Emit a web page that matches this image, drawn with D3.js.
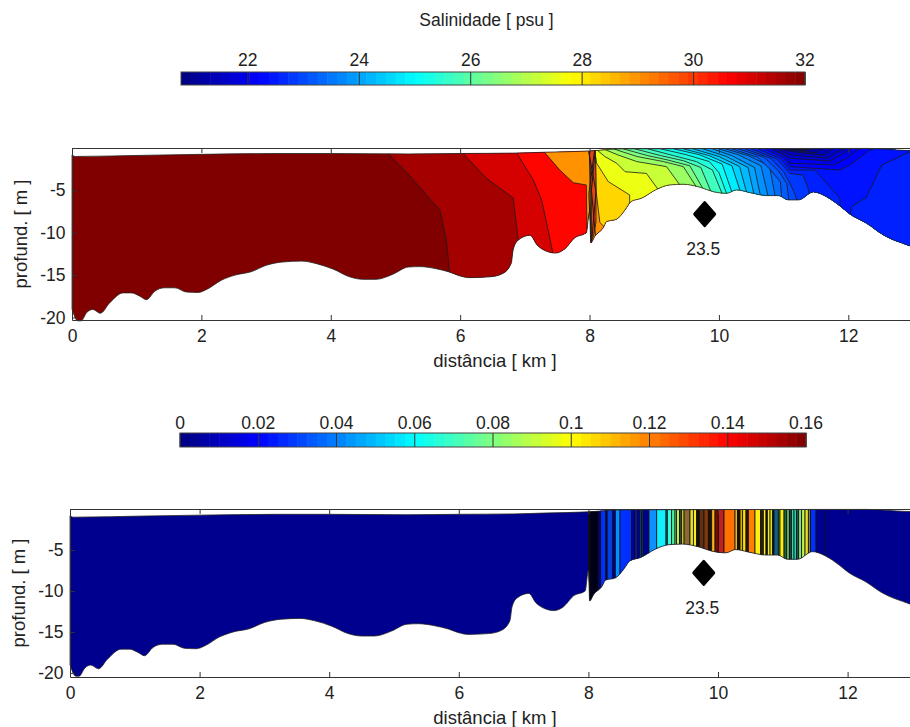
<!DOCTYPE html>
<html>
<head>
<meta charset="utf-8">
<script src="https://cdn.jsdelivr.net/npm/d3@7"></script>
<style>
  body { margin: 0; background: #fff; }
  text { font-family: "Liberation Sans", Arial, sans-serif; fill: #222; }
  .axis path, .axis line { stroke: #333; }
</style>
</head>
<body>
<div id="chart"></div>
<script>
// all depths are metres below surface, drawn as negative tick labels
const xTicks = [0, 2, 4, 6, 8, 10, 12];
const depthTicks = [5, 10, 15, 20];
const salinityTicks = [22, 24, 26, 28, 30, 32];
const momentumTicks = [0, 0.02, 0.04, 0.06, 0.08, 0.1, 0.12, 0.14, 0.16];

const surface = [[0,.8],[.05,1],[1.2,.85],[2,.75],[3.2,.65],[4,.65],[5.2,.7],[6,.65],[6.85,.6],[7.3,.5],
  [8,.35],[8.5,.1],[12.3,.05],[12.9,.3],[13.1,.35]];

const bed = [[0,19],[.09,20.4],[.14,20.4],[.23,19.4],[.32,19.05],[.44,19.5],[.58,18.3],[.79,17.1],[.92,17.1],
  [1.05,17.5],[1.15,17.9],[1.28,16.9],[1.43,16.5],[1.59,16.5],[1.77,17],[1.95,17.05],[2.08,16.7],[2.31,15.6],
  [2.52,15],[2.77,14.6],[3,13.85],[3.26,13.45],[3.55,13.35],[3.78,13.65],[4.04,14.3],[4.29,15.2],[4.5,15.5],
  [4.7,15.5],[4.96,14.9],[5.2,14.05],[5.38,14],[5.63,14.25],[5.84,14.65],[6,15.1],[6.15,15.3],[6.46,15.2],
  [6.66,14.8],[6.79,13.6],[6.82,12],[6.9,10.85],[7.08,10.3],[7.19,11.45],[7.34,12.2],[7.47,12.4],[7.62,11.9],
  [7.77,10.6],[7.95,10],[8,7.5],[8.02,11.2],[8.08,10.45],[8.22,9.3],[8.26,8.7],[8.42,8.4],[8.55,7.3],[8.64,6.33],
  [8.8,5.94],[9.04,4.87],[9.24,4.36],[9.45,4.28],[9.71,4.64],[9.91,5.15],[10.12,5.35],[10.27,4.95],[10.48,5.27],
  [10.74,5.62],[10.92,5.62],[11.07,6.13],[11.23,6.13],[11.46,5.2],[11.66,5.74],[11.87,6.84],[12.02,7.78],
  [12.28,8.88],[12.54,10.26],[12.95,11.56],[13.1,12]];

// salinity of the water to the right of each contour
const contourLevels = [31.6, 31.06, 30.55, 29, 28.25, 27.6, 27.2, 26.7, 26.4, 26.05, 25.7, 25.4, 25.1, 24.8, 24.5,
  24.25, 24, 23.8, 23.6, 23.4, 23.2, 23, 22.8, 22.55];
const contourLines = [
  [[4.84,.3],[5.2,3.1],[5.69,7.4],[5.79,11],[5.84,15]],
  [[6,.3],[6.41,3.6],[6.82,5.9],[6.9,11]],
  [[6.85,.3],[7.13,3.77],[7.26,6.13],[7.44,12.6]],
  [[7.28,.3],[7.54,2.6],[7.75,4.1],[7.95,4.36],[7.96,10.2]],
  [[8.09,.1],[8.1,5],[8.16,8.8],[8.24,9.4]],
  [[8.08,.3],[8.11,1.8],[8.29,3.97],[8.62,5.54],[8.62,6.5]],
  [[8.11,.2],[8.24,1.02],[8.42,1.8],[8.55,2.8],[8.88,3],[9.06,4.9]],
  [[8.21,.1],[8.44,.82],[8.73,1.6],[9.19,2.2],[9.4,4.4]],
  [[8.37,.1],[8.73,1],[9.14,1.6],[9.45,2.2],[9.66,4.7]],
  [[8.52,.1],[8.9,.9],[9.2,1.4],[9.55,2.1],[9.76,4.9]],
  [[8.7,.1],[9.1,.9],[9.45,1.5],[9.72,2.3],[9.88,5.2]],
  [[8.9,.1],[9.3,.9],[9.65,1.6],[9.9,2.6],[10.05,5.4]],
  [[9.1,.1],[9.5,.8],[9.85,1.6],[10,2.9],[10.12,5.4]],
  [[9.3,.1],[9.7,.8],[10.05,1.9],[10.2,5.2]],
  [[9.45,.1],[9.85,.9],[10.2,2.1],[10.33,5.1]],
  [[9.6,.1],[10,1],[10.32,2.2],[10.43,5.3]],
  [[9.75,.1],[10.1,.95],[10.45,2.3],[10.54,5.4]],
  [[9.9,.1],[10.2,.9],[10.55,2.3],[10.64,5.6]],
  [[10,.1],[10.3,.8],[10.65,2.1],[10.76,5.7]],
  [[10.1,.1],[10.45,.9],[10.78,2.1],[10.87,5.7]],
  [[10.2,.1],[10.6,1.1],[10.8,2.6],[10.95,4],[10.97,5.8]],
  [[10.3,.1],[10.7,1.1],[10.92,2.7],[11.05,4.2],[11.08,6.2]],
  [[10.4,.1],[10.8,1.2],[11,2.8],[11.1,4.2],[11.15,5],[11.21,6.2]],
  [[10.5,.1],[10.9,1.3],[11.1,3],[11.3,3.2],[11.38,4.8],[11.4,6]]
];

// fresh tongue under the surface, closed along the top
const tongueLevels = [22.4, 22.2, 22, 21.8, 21.6, 21.4, 21.2, 21, 20.8];
const tongueLines = [
  [[10.6,.1],[10.95,1.2],[11.1,2.6],[11.48,2.6],[11.87,5.9],[11.87,7.2],[12.03,8.2],[12.05,6.9],[12.28,5.8],[12.52,2],[12.95,.45],[13.2,.1]],
  [[10.7,.1],[11,1.1],[11.1,2.2],[11.87,2.6],[12.03,2],[12.33,.23],[12.4,.1]],
  [[10.8,.1],[11.05,1],[11.1,1.8],[11.77,2],[11.98,1.2],[12.15,.2],[12.2,.1]],
  [[10.85,.1],[11.1,1.2],[11.72,1.53],[11.92,.63],[12.05,.1]],
  [[10.9,.1],[11.1,.8],[11.67,1.2],[11.82,.5],[11.95,.1]],
  [[10.95,.1],[11.1,.4],[11.62,.85],[11.75,.1]],
  [[11,.1],[11.2,.35],[11.5,.55],[11.6,.1]],
  [[11.1,.1],[11.3,.3],[11.45,.1]],
  [[11.2,.1],[11.3,.2],[11.38,.1]]
];

// overturned strip at the 8 km front
const frontStrip = [[7.99,.1],[8.09,.1],[8.1,4],[8.1,8.8],[8.06,10.4],[8.03,10.9],[8.03,6],[8.01,2]];
const frontLines = [
  [[7.98,.1],[8.1,5.15],[8.03,11.2]],
  [[8.08,.1],[7.99,5.4],[8.02,11.2]],
  [[8,.1],[8.02,11.2]],
  [[8.09,.1],[8.03,5],[8.09,10.3]]
];

const stripeEdges = [8,8.025,8.154,8.19,8.27,8.29,8.375,8.416,8.488,8.668,8.72,8.755,8.797,8.822,8.848,8.935,9.054,
  9.198,9.218,9.285,9.337,9.362,9.404,9.44,9.476,9.568,9.62,9.671,9.712,9.784,9.851,9.903,9.954,10.005,10.093,10.263,
  10.299,10.34,10.381,10.432,10.468,10.571,10.659,10.7,10.741,10.762,10.803,10.844,10.865,10.931,10.957,11.019,11.06,
  11.101,11.137,11.173,11.214,11.245,11.291,11.343,11.394,11.43,11.513,11.641];
const stripeColors = ["#00002a","#000018","#00008f","#0030ff","#000080","#0040e0","#0000a0","#0090ff","#0030ff","#0000a0",
  "#0020c0","#0000a0","#0060e0","#103070","#00008f","#1090ff","#10f0ff","#107070","#30ffe0","#50f0a0","#80e080","#c0ff50",
  "#404020","#d8d840","#8a6a30","#e8e030","#ffe820","#101000","#603010","#803810","#201000","#ffb020","#701000","#c02020",
  "#ff7000","#ffc020","#101000","#d0b000","#ffe000","#301000","#ff8000","#ffee10","#302000","#ffee10","#181000","#eeee20",
  "#e8e020","#181000","#106080","#60b040","#ffee10","#206040","#60c060","#104040","#40e0c0","#30d0a0","#106060","#80e080",
  "#c0f050","#e0e030","#808020","#0030ff","#000090"];

const markerKm = 9.78;
const markerDepth = 7.8;
const markerLabel = "23.5";

const width = 910, height = 727;
const tickFont = 17.5, labelFont = 18.5;
const svg = d3.select("#chart").append("svg")
    .attr("width", width)
    .attr("height", height)
    .style("display", "block");

function jet(t) {
  const c = v => Math.round(255 * Math.max(0, Math.min(1, v)));
  const r = 1.5 - Math.abs(4 * t - 3), g = 1.5 - Math.abs(4 * t - 2), b = 1.5 - Math.abs(4 * t - 1);
  return d3.rgb(c(r), c(g), c(b)).formatHex();
}

const salinityColor = s => jet((s - 20.8) / (32 - 20.8));

function colorbar(domain, x0, x1, y0, y1, ticks, labelY) {
  const x = d3.scaleLinear().domain(domain).range([x0, x1]);
  const cells = d3.range(64);
  const g = svg.append("g");
  g.selectAll("rect")
    .data(cells)
    .join("rect")
      .attr("x", d => x0 + (x1 - x0) * d / 64)
      .attr("width", (x1 - x0) / 64 + .5)
      .attr("y", y0)
      .attr("height", y1 - y0)
      .attr("fill", d => jet((d + .5) / 64));
  g.append("rect")
      .attr("x", x0).attr("y", y0)
      .attr("width", x1 - x0).attr("height", y1 - y0)
      .attr("fill", "none")
      .attr("stroke", "#444");
  g.selectAll("line")
    .data(ticks)
    .join("line")
      .attr("x1", d => x(d)).attr("x2", d => x(d))
      .attr("y1", y0).attr("y2", y1)
      .attr("stroke", "#333");
  g.selectAll("text")
    .data(ticks)
    .join("text")
      .attr("x", d => x(d))
      .attr("y", labelY)
      .attr("text-anchor", "middle")
      .attr("font-size", tickFont)
      .text(d => d);
}

function panel(id, xRange, yRange, depthMax, drawWater, xLabelY, yLabelX) {
  const x = d3.scaleLinear().domain([0, 13]).range(xRange);
  const y = d3.scaleLinear().domain([0, depthMax]).range(yRange);
  const line = d3.line().x(d => x(d[0])).y(d => y(d[1]));
  const smooth = d3.line().x(d => x(d[0])).y(d => y(d[1])).curve(d3.curveMonotoneX);
  const water = surface.concat(bed.slice().reverse());

  svg.append("clipPath").attr("id", id)
    .append("path").attr("d", smooth(water) + "Z");

  const g = svg.append("g").attr("clip-path", `url(#${id})`);
  drawWater(g, x, y, line);

  svg.append("path")
      .attr("d", smooth(water) + "Z")
      .attr("fill", "none")
      .attr("stroke", "#222")
      .attr("stroke-width", .8);

  const xAxis = svg.append("g").attr("class", "axis")
      .attr("transform", `translate(0,${yRange[1]})`)
      .call(d3.axisBottom(x).tickValues(xTicks).tickSize(-5).tickSizeOuter(0).tickPadding(9.5));
  svg.append("g").attr("class", "axis")
      .attr("transform", `translate(0,${yRange[0]})`)
      .call(d3.axisTop(x).tickValues(xTicks).tickSize(-5).tickSizeOuter(0).tickFormat(""));
  const yAxis = svg.append("g").attr("class", "axis")
      .attr("transform", `translate(${xRange[0]},0)`)
      .call(d3.axisLeft(y).tickValues(depthTicks).tickSize(-5).tickSizeOuter(0).tickPadding(6.5).tickFormat(d => "-" + d));
  xAxis.selectAll("text").attr("font-size", tickFont).attr("font-family", null);
  yAxis.selectAll("text").attr("font-size", tickFont).attr("font-family", null);

  svg.append("path")
      .attr("d", d3.symbol(d3.symbolSquare, 265)())
      .attr("transform", `translate(${x(markerKm)},${y(markerDepth)}) scale(.88,1) rotate(45)`)
      .attr("fill", "#000")
      .attr("stroke", "#000")
      .attr("stroke-width", 3)
      .attr("stroke-linejoin", "round");
  svg.append("text")
      .attr("x", x(markerKm) - 1.5)
      .attr("y", y(markerDepth) + 41)
      .attr("text-anchor", "middle")
      .attr("font-size", tickFont)
      .text(markerLabel);

  svg.append("text")
      .attr("x", 495)
      .attr("y", xLabelY)
      .attr("text-anchor", "middle")
      .attr("font-size", labelFont)
      .text("distância [ km ]");
  const yMid = (yRange[0] + yRange[1]) / 2;
  svg.append("text")
      .attr("transform", `translate(${yLabelX},${yMid}) rotate(-90)`)
      .attr("text-anchor", "middle")
      .attr("font-size", labelFont)
      .text("profund. [ m ]");
}

// salinity: paint each contour's fresher side on top of the saltier one
function drawSalinity(g, x, y, line) {
  const contour = "#1a1a1a";
  g.append("rect")
      .attr("x", x(0)).attr("y", y(-1))
      .attr("width", x(14) - x(0)).attr("height", y(25) - y(-1))
      .attr("fill", "#800000");

  contourLines.forEach((pts, i) => {
    const last = pts[pts.length - 1];
    const closed = pts.concat([[last[0], 30], [14, 30], [14, -1], [pts[0][0], -1]]);
    g.append("path")
        .attr("d", line(closed) + "Z")
        .attr("fill", salinityColor(contourLevels[i]))
        .attr("stroke", contour)
        .attr("stroke-width", .8);
  });

  tongueLines.forEach((pts, i) => {
    const last = pts[pts.length - 1];
    const closed = pts.concat([[last[0], -1], [pts[0][0], -1]]);
    g.append("path")
        .attr("d", line(closed) + "Z")
        .attr("fill", salinityColor(tongueLevels[i]))
        .attr("stroke", contour)
        .attr("stroke-width", .8);
  });

  g.append("path")
      .attr("d", line(frontStrip) + "Z")
      .attr("fill", "#e84510")
      .attr("stroke", contour)
      .attr("stroke-width", .8);
  frontLines.forEach(pts => {
    g.append("path")
        .attr("d", line(pts))
        .attr("fill", "none")
        .attr("stroke", contour)
        .attr("stroke-width", 1);
  });
}

function drawStripes(g, x, y) {
  g.append("rect")
      .attr("x", x(0)).attr("y", y(-1))
      .attr("width", x(14) - x(0)).attr("height", y(25) - y(-1))
      .attr("fill", "#00008f");
  g.selectAll(".stripe")
    .data(stripeColors)
    .join("rect")
      .attr("class", "stripe")
      .attr("x", (d, i) => x(stripeEdges[i]))
      .attr("width", (d, i) => x(stripeEdges[i + 1]) - x(stripeEdges[i]))
      .attr("y", y(-1))
      .attr("height", y(25) - y(-1))
      .attr("fill", d => d)
      .attr("stroke", "#111")
      .attr("stroke-width", .8);
}

svg.append("text")
    .attr("x", 486.5).attr("y", 26)
    .attr("text-anchor", "middle")
    .attr("font-size", 17.5)
    .text("Salinidade [ psu ]");

colorbar([20.8, 32], 181, 805, 72, 85, salinityTicks, 66);
colorbar([0, 0.16], 180, 806, 433, 447, momentumTicks, 429);

panel("clipTop", [72, 913], [148, 320], 20.3, drawSalinity, 367, 27);
panel("clipBottom", [70, 912.4], [509, 677], 20.5, drawStripes, 724, 25);
</script>
</body>
</html>
